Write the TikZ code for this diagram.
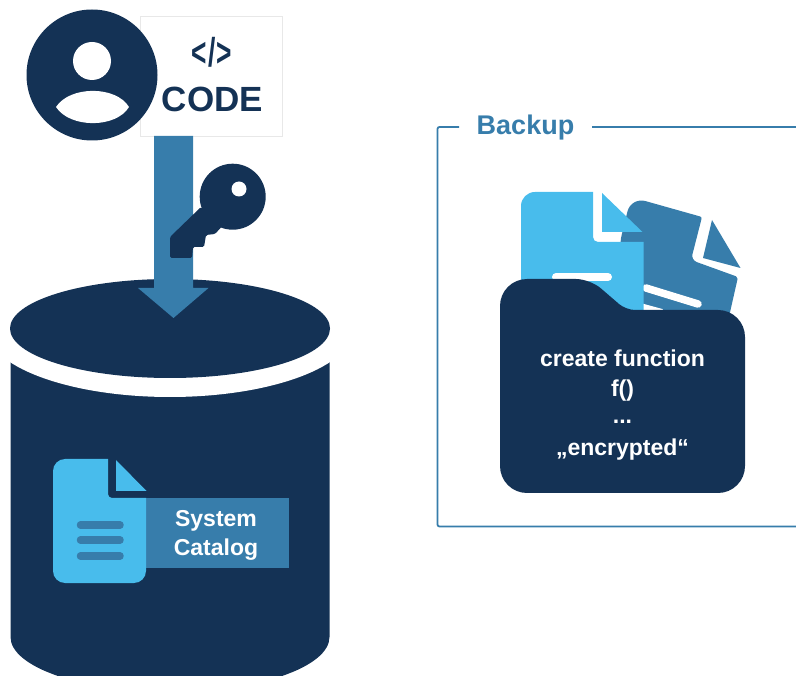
\documentclass[tikz,border=0pt]{standalone}
\usepackage{fontspec}
\setmainfont{Liberation Sans}
\definecolor{navy}{HTML}{143255}
\definecolor{midblue}{HTML}{377DAB}
\definecolor{skyblue}{HTML}{48BCEC}
\newcommand{\fs}[1]{\fontsize{#1}{#1}\selectfont}
\tikzset{
  dark/.style={fill=navy,draw=none},
  mid/.style={fill=midblue,draw=none},
  sky/.style={fill=skyblue,draw=none},
  white fill/.style={fill=white,draw=none},
  label text/.style={text=white,font=\bfseries\fs{23},inner sep=0pt,anchor=center},
}
\begin{document}
\begin{tikzpicture}[x=1pt,y=-1pt]
\useasboundingbox (0,0) rectangle (796,676);
\clip (0,0) rectangle (796,676);
% ---- cylinder body
\fill[dark] (10.5,355) -- (10.5,637) .. controls (10.5,667) and (82,692) .. (170,692)
  .. controls (258,692) and (329.5,667) .. (329.5,637) -- (329.5,355) -- cycle;
\fill[white fill] (170,328) ellipse [x radius=184pt,y radius=69pt];
\fill[dark] (170,328.5) ellipse [x radius=160pt,y radius=49.5pt];
% ---- code box
\node (codebox) [draw=black!9,line width=0.8pt,fill=white,minimum width=142pt,minimum height=120pt,inner sep=0pt] at (211.5,76.5) {};
% ---- arrow
\coordinate (arrowtop) at (173.5,136);
\coordinate (arrowtip) at (173.5,318);
\fill[mid] (arrowtop) ++(-19.5,0) -- (193,136) -- (193,288) -- (208.5,288) -- (arrowtip) -- (138,288) -- (154,288) -- cycle;
% ---- person
\fill[dark] (92,75) circle [radius=65.5pt];
\fill[white fill] (92,61) circle [radius=19pt];
\fill[white fill] (56,107) .. controls (70,85.5) and (116,85.5) .. (129,107) .. controls (116,128.5) and (70,128.5) .. cycle;
\node (codesign) [text=navy,font=\fs{31},inner sep=0pt,xscale=.85,yscale=1.3] at (212,52) {\textbf{<\kern1.5pt/\kern1.5pt>}};
\node (codetext) [text=navy,font=\bfseries\fs{35},inner sep=0pt] at (212.5,99) {CODE};
% ---- key
\fill[dark] (232.7,196.7) circle [radius=33pt];
\fill[dark,rounded corners=1.5pt] (201,207) -- (170,237) -- (170,258) -- (192,258) -- (193,247) -- (204,247) -- (206,235) -- (215,234) -- (226,222) -- cycle;
\fill[white fill] (239,189) circle [radius=7.5pt];
% ---- system catalog
\node (catalogbox) [mid,minimum width=143pt,minimum height=70pt,inner sep=0pt] at (217.5,533) {};
\fill[sky] (108,480) -- (108,459) [rounded corners=12pt] -- (53,459) -- (53,583) -- (146,583) [sharp corners] -- (146,498) -- (113,498) [rounded corners=4pt] -- (108,498) [sharp corners] -- cycle;
\fill[sky] (116,460) -- (146.5,491) -- (116,491) -- cycle;
\foreach \yy in {525,540,556}
  \draw[midblue,line width=7.5pt,line cap=round] (80.5,\yy) -- (120,\yy);
\node (catalog1) [label text] at (216,521) {System};
\node (catalog2) [label text] at (216,550) {Catalog};
% ---- backup frame
\draw[midblue,line width=1.8pt,rounded corners=2pt] (459,127) -- (437.5,127) -- (437.5,526.5) -- (796,526.5);
\draw[midblue,line width=1.8pt] (592,127) -- (796,127);
\node (backup) [text=midblue,font=\bfseries\fs{27},inner sep=0pt] at (525.5,128) {Backup};
% ---- documents in folder
\fill[mid,rounded corners=15pt] (650,340) -- (618,250) -- (631,197) [rounded corners=2pt] -- (702,217) [rounded corners=6pt] -- (691,260) [rounded corners=2pt] -- (738,277) -- (726,330) -- cycle;
\fill[mid] (712,220) -- (740.5,268) -- (703,258) -- cycle;
\draw[white,line width=7.5pt,line cap=round] (646,288) -- (698,304);
\draw[white,line width=6pt] (640,306) -- (662,312);
\fill[sky] (593,220) -- (593,192) [rounded corners=14pt] -- (521,192) -- (521,330) [sharp corners] -- (643.5,330) -- (643.5,242) -- (598,242) [rounded corners=5pt] -- (593,242) [sharp corners] -- cycle;
\fill[sky] (602,193) -- (642.5,232) -- (602,232) -- cycle;
\draw[white,line width=8pt,line cap=round] (556,277) -- (608,277);
% ---- folder
\fill[dark,rounded corners=27pt] (500,400) -- (500,279) [rounded corners=14pt] -- (590,279) [rounded corners=9pt] -- (626,310) [rounded corners=27pt] -- (745,310) -- (745,493) -- (500,493) -- cycle;
\node (fn1) [label text] at (622.5,358) {create function};
\node (fn2) [label text] at (622.5,391) {f()};
\node (fn3) [label text] at (622.5,422) {...};
\node (fn4) [label text] at (622.5,450) {„encrypted“};
\end{tikzpicture}
\end{document}
